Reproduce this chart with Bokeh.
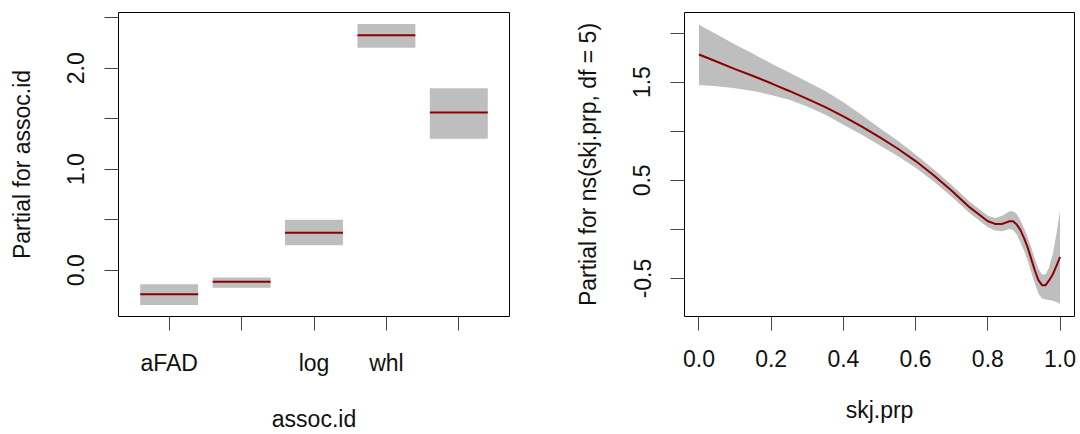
import numpy as np
from bokeh.plotting import figure
from bokeh.layouts import row
from bokeh.models import FixedTicker, Range1d, ColumnDataSource
from bokeh.embed import file_html
from bokeh.resources import INLINE

# ---------------- data: left panel (factor term) ----------------
assoc_tick_labels = ["aFAD", "", "log", "whl", ""]
assoc_fit = [-0.239, -0.114, 0.371, 2.327, 1.561]
assoc_lo = [-0.344, -0.173, 0.246, 2.203, 1.302]
assoc_hi = [-0.138, -0.072, 0.499, 2.436, 1.800]
left_y_ticks = [0.0, 0.5, 1.0, 1.5, 2.0, 2.5]
left_y_labels = ["0.0", "", "1.0", "", "2.0", ""]

# ---------------- data: right panel (spline term) ----------------
skj_prp = [0.0, 0.05, 0.1, 0.15, 0.2, 0.25, 0.3, 0.35, 0.4, 0.45, 0.5, 0.55, 0.6,
           0.65, 0.7, 0.75, 0.8, 0.82, 0.84, 0.86, 0.87, 0.88, 0.89, 0.9, 0.91,
           0.92, 0.93, 0.94, 0.95, 0.96, 0.97, 0.98, 0.99, 1.0]
skj_fit = [1.781, 1.707, 1.633, 1.562, 1.488, 1.410, 1.330, 1.245, 1.151, 1.050,
           0.939, 0.824, 0.696, 0.551, 0.393, 0.224, 0.083, 0.056, 0.056, 0.083,
           0.083, 0.050, -0.005, -0.086, -0.180, -0.298, -0.416, -0.517, -0.568,
           -0.568, -0.517, -0.457, -0.372, -0.281]
skj_upper = [2.085, 1.984, 1.882, 1.788, 1.690, 1.599, 1.505, 1.410, 1.296, 1.168,
             1.033, 0.905, 0.763, 0.612, 0.453, 0.281, 0.140, 0.116, 0.140, 0.184,
             0.184, 0.157, 0.096, 0.015, -0.079, -0.180, -0.298, -0.399, -0.460,
             -0.457, -0.383, -0.248, -0.045, 0.190]
skj_lower = [1.471, 1.458, 1.438, 1.410, 1.370, 1.320, 1.252, 1.168, 1.067, 0.966,
             0.858, 0.747, 0.629, 0.487, 0.332, 0.164, 0.022, -0.012, -0.019, 0.005,
             -0.005, -0.052, -0.130, -0.214, -0.315, -0.433, -0.551, -0.652, -0.703,
             -0.713, -0.720, -0.726, -0.740, -0.760]
right_x_ticks = [0.0, 0.2, 0.4, 0.6, 0.8, 1.0]
right_x_labels = ["0.0", "0.2", "0.4", "0.6", "0.8", "1.0"]
right_y_ticks = [-0.5, 0.0, 0.5, 1.0, 1.5, 2.0]
right_y_labels = ["-0.5", "", "0.5", "", "1.5", ""]

BAND = "#bebebe"
FIT = "#8b0000"
FONT = "Liberation Sans"
FS = "23px"
TXT = "#111111"


def style(p):
    p.xgrid.visible = False
    p.ygrid.visible = False
    p.outline_line_color = "black"
    p.outline_line_width = 1
    p.background_fill_color = "white"
    p.border_fill_color = "white"
    for ax in (p.xaxis[0], p.yaxis[0]):
        ax.axis_line_color = None
        ax.major_tick_out = 14
        ax.major_tick_in = 0
        ax.minor_tick_out = 0
        ax.minor_tick_in = 0
        ax.major_tick_line_color = "#444444"
        ax.major_tick_line_width = 1
        ax.major_label_text_font = FONT
        ax.major_label_text_font_size = FS
        ax.major_label_text_color = TXT
        ax.axis_label_text_font = FONT
        ax.axis_label_text_font_size = FS
        ax.axis_label_text_font_style = "normal"
        ax.axis_label_text_color = TXT
    p.yaxis[0].major_label_orientation = "vertical"
    p.yaxis[0].major_label_standoff = 20
    p.yaxis[0].axis_label_standoff = 30
    p.xaxis[0].major_label_standoff = 19
    p.xaxis[0].axis_label_standoff = 27


# ---------------- left figure ----------------
pos = list(range(1, len(assoc_fit) + 1))
src1 = ColumnDataSource(dict(
    x0=[i - 0.4 for i in pos], x1=[i + 0.4 for i in pos],
    fit=assoc_fit, lo=assoc_lo, hi=assoc_hi))

p1 = figure(width=540, height=434, output_backend="svg", toolbar_location=None,
            x_range=Range1d(0.3, 5.7), y_range=Range1d(-0.458, 2.551),
            min_border_left=118, min_border_right=31, min_border_top=12,
            min_border_bottom=116, x_axis_label="assoc.id",
            y_axis_label="Partial for assoc.id")
p1.quad(left="x0", right="x1", bottom="lo", top="hi", source=src1,
        fill_color=BAND, line_color=None)
p1.segment(x0="x0", x1="x1", y0="fit", y1="fit", source=src1,
           line_color=FIT, line_width=2)
style(p1)
p1.xaxis[0].ticker = FixedTicker(ticks=pos)
p1.xaxis[0].major_label_overrides = {i: l for i, l in zip(pos, assoc_tick_labels)}
p1.yaxis[0].ticker = FixedTicker(ticks=left_y_ticks)
p1.yaxis[0].major_label_overrides = {t: l for t, l in zip(left_y_ticks, left_y_labels)}

# ---------------- right figure ----------------
src2 = ColumnDataSource(dict(x=skj_prp, fit=skj_fit, up=skj_upper, lo=skj_lower))
p2 = figure(width=540, height=434, output_backend="svg", toolbar_location=None,
            x_range=Range1d(-0.04, 1.04), y_range=Range1d(-0.887, 2.209),
            min_border_left=144, min_border_right=6, min_border_top=12,
            min_border_bottom=116, x_axis_label="skj.prp",
            y_axis_label="Partial for ns(skj.prp, df = 5)")
p2.varea(x="x", y1="lo", y2="up", source=src2, fill_color=BAND)
p2.line(x="x", y="fit", source=src2, line_color=FIT, line_width=2)
style(p2)
p2.xaxis[0].ticker = FixedTicker(ticks=right_x_ticks)
p2.xaxis[0].major_label_overrides = {t: l for t, l in zip(right_x_ticks, right_x_labels)}
p2.yaxis[0].ticker = FixedTicker(ticks=right_y_ticks)
p2.yaxis[0].major_label_overrides = {t: l for t, l in zip(right_y_ticks, right_y_labels)}

layout = row(p1, p2)
open("out.html", "w").write(file_html(layout, INLINE))
